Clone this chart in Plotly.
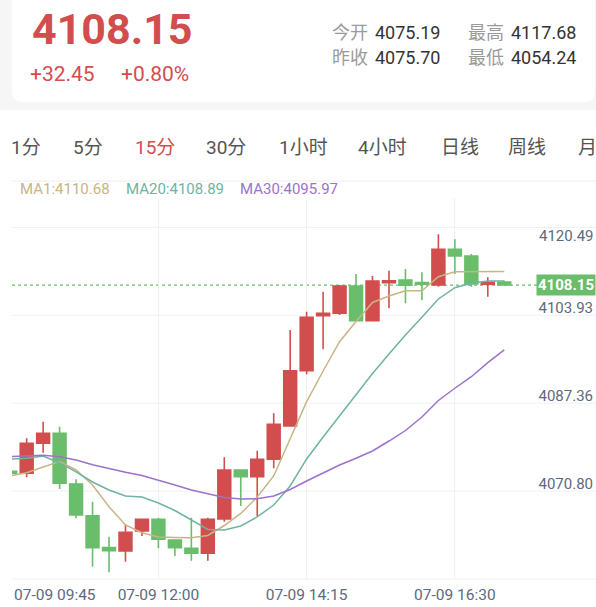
import plotly.graph_objects as go

# ---------------- data ----------------
DATE = "07-09"
TIMES = ["09:45", "10:00", "10:15", "10:30", "10:45", "11:00", "11:15", "11:30", "11:45",
         "12:00", "12:15", "12:30", "12:45", "13:00", "13:15", "13:30", "13:45", "14:00",
         "14:15", "14:30", "14:45", "15:00", "15:15", "15:30", "15:45", "16:00", "16:15",
         "16:30", "16:45", "17:00", "17:15"]

OPEN = [4073.20, 4072.82, 4078.45, 4080.33, 4070.81, 4064.86, 4058.86, 4058.24, 4061.99, 4064.19,
        4060.30, 4058.75, 4057.81, 4064.24, 4073.44, 4072.18, 4075.45, 4081.70, 4092.08, 4102.40,
        4102.85, 4107.98, 4101.46, 4108.60, 4109.10, 4108.60, 4108.16, 4114.86, 4113.61, 4108.30,
        4108.73]
HIGH = [4073.54, 4079.39, 4082.51, 4081.57, 4071.70, 4067.49, 4060.92, 4063.12, 4064.24, 4064.49,
        4060.43, 4064.49, 4064.49, 4075.82, 4073.57, 4077.06, 4084.08, 4099.72, 4103.15, 4106.91,
        4108.16, 4110.23, 4109.85, 4110.85, 4111.17, 4110.55, 4117.68, 4116.74, 4113.98, 4109.61,
        4108.97]
LOW = [4072.32, 4072.07, 4076.69, 4069.88, 4064.38, 4055.29, 4054.24, 4056.23, 4061.05, 4058.75,
       4057.30, 4056.42, 4056.42, 4063.74, 4066.68, 4064.81, 4073.76, 4081.57, 4091.40, 4096.10,
       4102.53, 4101.30, 4101.30, 4103.79, 4104.73, 4105.35, 4107.84, 4110.23, 4107.84, 4105.97,
       4108.10]
CLOSE = [4072.82, 4078.45, 4080.33, 4070.94, 4064.99, 4058.86, 4058.29, 4061.75, 4064.19, 4060.43,
         4058.86, 4057.81, 4064.19, 4073.44, 4072.18, 4075.45, 4082.02, 4092.08, 4102.10, 4102.85,
         4107.98, 4101.46, 4108.91, 4108.97, 4108.11, 4108.30, 4114.86, 4113.61, 4108.35, 4108.67,
         4108.15]

MA1 = [4072.32, 4072.93, 4074.00, 4075.04, 4073.44, 4070.63, 4066.55, 4063.12, 4061.67, 4060.87,
       4060.77, 4060.73, 4061.15, 4063.02, 4065.28, 4068.37, 4072.32, 4079.26, 4086.26, 4092.02,
       4097.52, 4101.31, 4104.88, 4106.10, 4107.09, 4107.09, 4109.72, 4110.66, 4110.66, 4110.70,
       4110.68]
MA20 = [4075.51, 4075.64, 4076.07, 4074.76, 4073.07, 4071.19, 4069.69, 4068.56, 4068.37, 4067.25,
        4065.84, 4064.06, 4062.27, 4062.18, 4062.93, 4064.62, 4066.87, 4070.44, 4075.51, 4079.64,
        4083.58, 4087.52, 4091.55, 4095.21, 4098.78, 4102.10, 4105.54, 4107.66, 4108.48, 4108.91,
        4108.89]
MA30 = [4075.94, 4076.07, 4076.20, 4075.94, 4075.32, 4074.44, 4073.69, 4073.03, 4072.41, 4071.56,
        4070.63, 4069.69, 4068.94, 4068.28, 4068.00, 4068.05, 4068.56, 4069.78, 4071.38, 4072.88,
        4074.38, 4075.64, 4077.01, 4078.88, 4080.85, 4083.39, 4086.49, 4088.78, 4090.95, 4093.58,
        4095.97]

CHANGE = "+32.45"
CHANGE_PCT = "+0.80%"
STAT_LABELS = ["今开", "最高", "昨收", "最低"]
STAT_VALUES = ["4075.19", "4117.68", "4075.70", "4054.24"]
TABS = ["1分", "5分", "15分", "30分", "1小时", "4小时", "日线", "周线", "月"]
ACTIVE_TAB = 2
YTICKS = [4054.24, 4070.80, 4087.36, 4103.93, 4120.49]
XTICK_IDX = [9, 18, 27]

# ---------------- style ----------------
W, H = 596, 607
L, R, T, B = 12, 0, 198, 28
PW, PH = W - L - R, H - T - B
RED = "#d24d4d"
GREEN = "#6abd6b"
TAN = "#c8b585"
TEAL = "#6fb3a3"
PURPLE = "#9b72cc"
AXIS = "#5c6a80"
GRID = "#f0f0f0"
FONT = "Roboto, 'Noto Sans CJK SC', sans-serif"


def fx(px):
    return (px - L) / PW


def fy(py):
    return (H - B - py) / PH


idx = list(range(len(TIMES)))

fig = go.Figure()
fig.add_trace(go.Candlestick(
    x=idx, open=OPEN, high=HIGH, low=LOW, close=CLOSE,
    increasing=dict(line=dict(color=RED, width=1.6), fillcolor=RED),
    decreasing=dict(line=dict(color=GREEN, width=1.6), fillcolor=GREEN),
    whiskerwidth=0, showlegend=False, hoverinfo="skip",
))
for name, vals, col in [("MA1", MA1, TAN), ("MA20", MA20, TEAL), ("MA30", MA30, PURPLE)]:
    fig.add_trace(go.Scatter(x=idx, y=vals, mode="lines", name=name,
                             line=dict(color=col, width=1.5), showlegend=False,
                             hoverinfo="skip"))

shapes = []
# header background + card
shapes.append(dict(type="rect", xref="paper", yref="paper", x0=fx(0), x1=fx(W),
                   y0=fy(110), y1=fy(-5), fillcolor="#f6f6f6", line=dict(width=0), layer="below"))
r = 11
card = (f"M {fx(12)},{fy(-20)} L {fx(12)},{fy(102 - r)} "
        f"Q {fx(12)},{fy(102)} {fx(12 + r)},{fy(102)} L {fx(595 - r)},{fy(102)} "
        f"Q {fx(595)},{fy(102)} {fx(595)},{fy(102 - r)} L {fx(595)},{fy(-20)} Z")
shapes.append(dict(type="path", xref="paper", yref="paper", path=card,
                   fillcolor="white", line=dict(width=0), layer="below"))
# separator under tabs
shapes.append(dict(type="line", xref="paper", yref="paper", x0=fx(12), x1=fx(W),
                   y0=fy(181), y1=fy(181), line=dict(color="#eeeeee", width=1), layer="below"))
# horizontal grid lines (evenly spaced panel grid)
for k in range(5):
    yy = fy(579 - k * 87.9)
    shapes.append(dict(type="line", xref="paper", yref="paper", x0=0, x1=1, y0=yy, y1=yy,
                       line=dict(color=GRID, width=1), layer="below"))
# last price dotted line
shapes.append(dict(type="line", xref="paper", yref="y", x0=0, x1=fx(540),
                   y0=CLOSE[-1], y1=CLOSE[-1],
                   line=dict(color=GREEN, width=1.2, dash="dot"), layer="below"))

ann = []
# header
ann.append(dict(text=f"{CLOSE[-1]:.2f}", x=fx(30), y=fy(29), xanchor="left", yanchor="middle",
                font=dict(size=43, color=RED, family=FONT, weight="bold")))
ann.append(dict(text=CHANGE, x=fx(28), y=fy(74), xanchor="left", yanchor="middle",
                font=dict(size=21, color=RED, family=FONT)))
ann.append(dict(text=CHANGE_PCT, x=fx(119), y=fy(74), xanchor="left", yanchor="middle",
                font=dict(size=21, color=RED, family=FONT)))
stat_pos = [(330, 373, 32), (466, 509, 32), (330, 373, 57), (466, 509, 57)]
for (lx, vx, yy), lab, val in zip(stat_pos, STAT_LABELS, STAT_VALUES):
    ann.append(dict(text=lab, x=fx(lx), y=fy(yy), xanchor="left", yanchor="middle",
                    font=dict(size=18, color="#9a9a9a", family=FONT)))
    ann.append(dict(text=val, x=fx(vx), y=fy(yy), xanchor="left", yanchor="middle",
                    font=dict(size=18, color="#333333", family=FONT)))
# tabs
tab_x = [9, 71, 133, 204, 277, 356, 439, 506, 576]
for i, (t, tx) in enumerate(zip(TABS, tab_x)):
    ann.append(dict(text=t, x=fx(tx), y=fy(147), xanchor="left", yanchor="middle",
                    font=dict(size=19, color=RED if i == ACTIVE_TAB else "#555555", family=FONT)))
# MA legend
leg_x = [18, 124, 238]
for (name, vals, col), lx in zip([("MA1", MA1, TAN), ("MA20", MA20, TEAL), ("MA30", MA30, PURPLE)], leg_x):
    ann.append(dict(text=f"{name}:{vals[-1]:.2f}", x=fx(lx), y=fy(189), xanchor="left",
                    yanchor="middle", font=dict(size=15, color=col, family=FONT)))
# top y label (clamped inside the panel) and first time label (clamped at left)
ann.append(dict(text=f"{YTICKS[-1]:.2f}", x=1, y=fy(579 - 4 * 87.9 - 2), xanchor="right",
                yanchor="top", font=dict(size=15, color=AXIS, family=FONT)))
ann.append(dict(text=f"{DATE} {TIMES[0]}", x=0, y=fy(595), xanchor="left", yanchor="middle",
                font=dict(size=15.5, color=AXIS, family=FONT)))
# last price tag
ann.append(dict(text=f"{CLOSE[-1]:.2f}", x=1, xref="paper", y=CLOSE[-1], yref="y",
                xanchor="right", yanchor="middle", bgcolor=GREEN, borderpad=1,
                font=dict(size=15, color="white", family=FONT, weight="bold")))
for a in ann:
    a.setdefault("xref", "paper")
    a.setdefault("yref", "paper")
    a["showarrow"] = False

fig.update_layout(
    width=W, height=H, margin=dict(l=L, r=R, t=T, b=B),
    paper_bgcolor="white", plot_bgcolor="white",
    shapes=shapes, annotations=ann, boxgap=0.22, boxgroupgap=0,
    font=dict(family=FONT),
    xaxis=dict(range=[0.109, 35.57], rangeslider=dict(visible=False),
               tickvals=XTICK_IDX, ticktext=[f"{DATE} {TIMES[i]}" for i in XTICK_IDX],
               showgrid=True, gridcolor=GRID, gridwidth=1, zeroline=False, showline=False,
               ticks="", tickfont=dict(size=15.5, color=AXIS, family=FONT), ticklabelstandoff=4),
    yaxis=dict(range=[4052.98, 4124.49], side="right", ticklabelposition="inside",
               tickvals=YTICKS[:-1], ticktext=[f"{v:.2f}" for v in YTICKS[:-1]],
               showgrid=False, zeroline=False, showline=False, ticks="",
               tickfont=dict(size=15, color=AXIS, family=FONT), ticklabelstandoff=0),
)

fig.write_html("out.html", config={"displayModeBar": False})
